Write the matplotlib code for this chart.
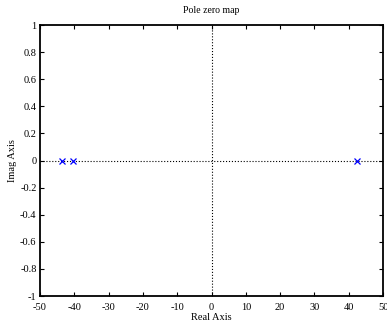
import matplotlib
matplotlib.use("Agg")
import matplotlib.pyplot as plt

# pole locations (real, imag)
pole_re = [-43.6, -40.5, 42.5]
pole_im = [0, 0, 0]

xticks = list(range(-50, 51, 10))
yticks = [-1, -0.8, -0.6, -0.4, -0.2, 0, 0.2, 0.4, 0.6, 0.8, 1]

plt.rcParams['font.family'] = ['Liberation Serif', 'DejaVu Serif']

fig = plt.figure(figsize=(3.87, 3.24), dpi=100)
ax = fig.add_axes([0.1034, 0.0864, 0.8863, 0.8364])

ax.axhline(0, color='black', linestyle=':', linewidth=0.8)
ax.axvline(0, color='black', linestyle=':', linewidth=0.8)
ax.plot(pole_re, pole_im, 'x', color='blue', markersize=5, markeredgewidth=0.9)

ax.set_xlim(-50, 50)
ax.set_ylim(-1, 1)
ax.set_xticks(xticks)
ax.set_yticks(yticks)
ax.set_xticklabels([str(t) for t in xticks])
ax.set_yticklabels(['-1', '-0.8', '-0.6', '-0.4', '-0.2', '0', '0.2', '0.4', '0.6', '0.8', '1'])
ax.tick_params(direction='in', top=True, right=True, length=3, width=0.8, labelsize=7.5)
ax.tick_params(axis='x', pad=5)
ax.tick_params(axis='y', pad=2.5)
for s in ax.spines.values():
    s.set_linewidth(1.3)

ax.set_title('Pole zero map', fontsize=7, pad=9)
ax.set_xlabel('Real Axis', fontsize=7.5, labelpad=0.5)
ax.set_ylabel('Imag Axis', fontsize=7.5, labelpad=2)

fig.savefig('out.png', dpi=100)
